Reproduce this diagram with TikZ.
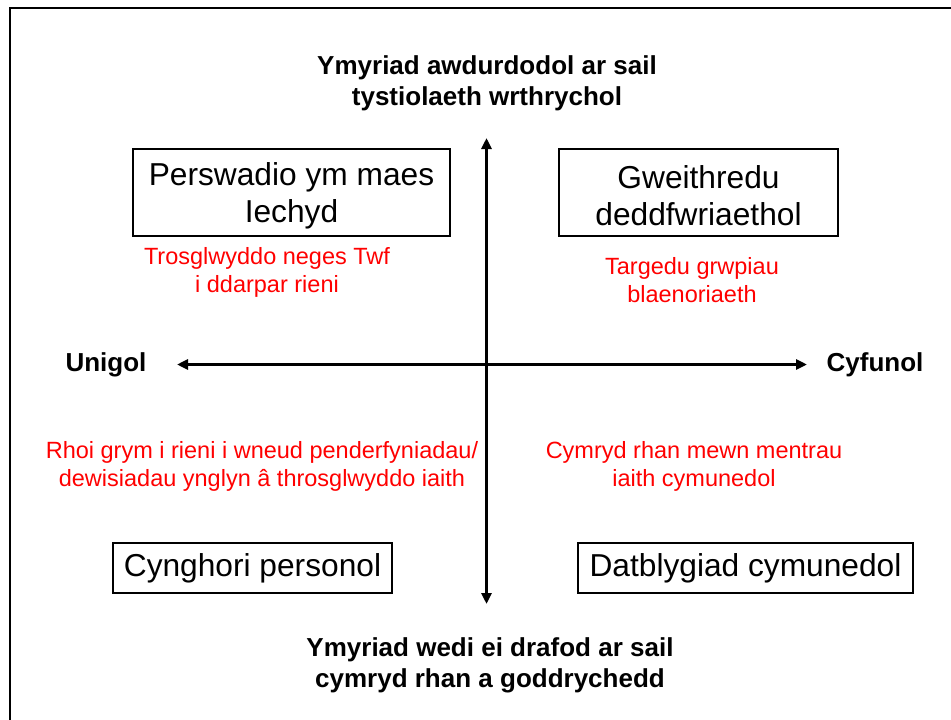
\documentclass[tikz,border=0pt]{standalone}
\usepackage{fontspec}
\setmainfont{Liberation Sans}
\usetikzlibrary{arrows.meta}
\begin{document}
\begin{tikzpicture}[x=1pt,y=-1pt,
  boxnode/.style={draw=black,line width=1.5pt,inner sep=0pt,align=center,
    font=\fontsize{31.7}{37}\selectfont},
  boxtext/.style={inner sep=0pt,align=center,font=\fontsize{31.7}{37}\selectfont},
  headtext/.style={align=center,font=\fontsize{26}{31}\selectfont\bfseries},
  redtext/.style={align=center,text=red,font=\fontsize{23.5}{28}\selectfont},
  axis/.style={line width=3.2pt,{Triangle[length=11pt,width=10pt]}-{Triangle[length=11pt,width=10pt]}}]
\useasboundingbox (0,0) rectangle (951,720);
\begin{scope}
\clip (0,0) rectangle (951,720);
\draw[line width=2pt] (9.5,740) -- (9.5,7.5) -- (970,7.5);
\end{scope}
% axes
\coordinate (vtop) at (486.5,138);
\coordinate (vbot) at (486.5,604);
\coordinate (hleft) at (177,364.5);
\coordinate (hright) at (807,364.5);
\draw[axis] (vbot) -- (vtop);
\draw[axis] (hleft) -- (hright);
% headings
\node[headtext] (top) at (487,83) {Ymyriad awdurdodol ar sail\\tystiolaeth wrthrychol};
\node[headtext] (bottom) at (490,665) {Ymyriad wedi ei drafod ar sail\\cymryd rhan a goddrychedd};
\node[headtext] (left) at (106,365) {Unigol};
\node[headtext] (right) at (875,365) {Cyfunol};
% boxes
\node[boxnode,minimum width=317pt,minimum height=87pt] (tl) at (291.5,192.5) {};
\node[boxtext] (tltext) at (291.5,195.5) {Perswadio ym maes\\Iechyd};
\node[boxnode,minimum width=279pt,minimum height=87pt] (tr) at (698.5,192.5) {};
\node[boxtext] (trtext) at (698.5,195.5) {Gweithredu\\deddfwriaethol};
\node[boxnode,minimum width=279pt,minimum height=50pt] (bl) at (252.5,568) {Cynghori personol};
\node[boxnode,minimum width=335pt,minimum height=50pt] (br) at (745.5,568) {Datblygiad cymunedol};
% red texts
\node[redtext] (rtl) at (267,272.5) {Trosglwyddo neges Twf\\i ddarpar rieni};
\node[redtext] (rtr) at (692,280.5) {Targedu grwpiau\\blaenoriaeth};
\node[redtext] (rbl) at (262,466) {Rhoi grym i rieni i wneud penderfyniadau/\\dewisiadau ynglyn â throsglwyddo iaith};
\node[redtext] (rbr) at (694,466) {Cymryd rhan mewn mentrau\\iaith cymunedol};
\end{tikzpicture}
\end{document}
